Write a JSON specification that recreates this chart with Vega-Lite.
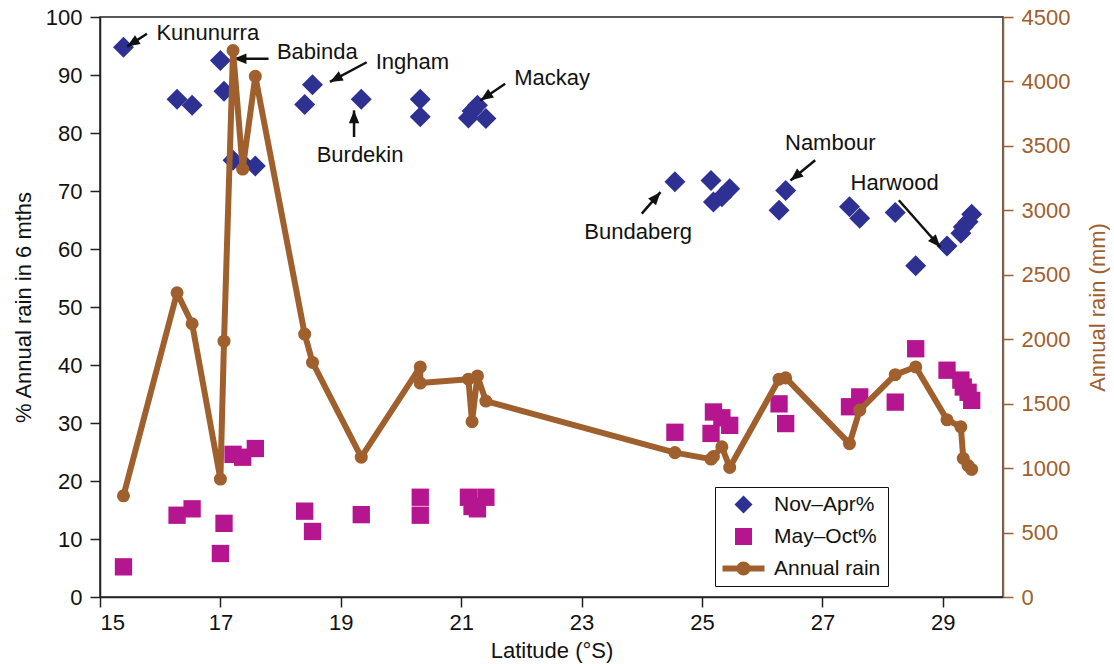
{
  "$schema": "https://vega.github.io/schema/vega-lite/v6.json",
  "width": 903,
  "height": 580,
  "autosize": {"type": "none"},
  "padding": {"left": 100, "top": 17, "right": 111, "bottom": 67},
  "background": "white",
  "config": {
    "font": "Liberation Sans",
    "view": {"fill": "#FEF1CC", "stroke": "#222222", "strokeWidth": 1.5},
    "axis": {
      "labelFontSize": 22, "titleFontSize": 22, "titleFontWeight": "normal",
      "labelColor": "#111111", "titleColor": "#111111", "domainColor": "#222222",
      "tickColor": "#222222", "tickSize": 10, "tickWidth": 1.5, "domainWidth": 1.5,
      "grid": false, "labelFont": "Liberation Sans", "titleFont": "Liberation Sans"
    },
    "text": {"font": "Liberation Sans"}
  },
  "datasets": {
    "stations": [
      {"seq": 1, "lat": 15.39, "nov": 94.8, "may": 5.2, "rain": 785},
      {"seq": 2, "lat": 16.28, "nov": 85.8, "may": 14.1, "rain": 2360},
      {"seq": 3, "lat": 16.53, "nov": 84.8, "may": 15.2, "rain": 2120},
      {"seq": 4, "lat": 17.0, "nov": 92.5, "may": 7.5, "rain": 915},
      {"seq": 5, "lat": 17.06, "nov": 87.2, "may": 12.7, "rain": 1985},
      {"seq": 6, "lat": 17.21, "nov": 75.3, "may": 24.6, "rain": 4240},
      {"seq": 7, "lat": 17.37, "nov": 74.8, "may": 24.1, "rain": 3320},
      {"seq": 8, "lat": 17.58, "nov": 74.3, "may": 25.6, "rain": 4040},
      {"seq": 9, "lat": 18.4, "nov": 84.9, "may": 14.8, "rain": 2040},
      {"seq": 10, "lat": 18.53, "nov": 88.3, "may": 11.3, "rain": 1820},
      {"seq": 11, "lat": 19.34, "nov": 85.8, "may": 14.2, "rain": 1085},
      {"seq": 12, "lat": 20.32, "nov": 82.8, "may": 17.2, "rain": 1785},
      {"seq": 13, "lat": 20.32, "nov": 85.8, "may": 14.1, "rain": 1660},
      {"seq": 14, "lat": 21.12, "nov": 82.6, "may": 17.2, "rain": 1690},
      {"seq": 15, "lat": 21.18, "nov": 83.8, "may": 15.6, "rain": 1360},
      {"seq": 16, "lat": 21.27, "nov": 84.8, "may": 15.2, "rain": 1715},
      {"seq": 17, "lat": 21.41, "nov": 82.5, "may": 17.2, "rain": 1520},
      {"seq": 18, "lat": 24.55, "nov": 71.6, "may": 28.4, "rain": 1120},
      {"seq": 19, "lat": 25.15, "nov": 71.8, "may": 28.2, "rain": 1070},
      {"seq": 20, "lat": 25.19, "nov": 68.1, "may": 31.9, "rain": 1090},
      {"seq": 21, "lat": 25.33, "nov": 69.0, "may": 30.9, "rain": 1165},
      {"seq": 22, "lat": 25.46, "nov": 70.4, "may": 29.6, "rain": 1005},
      {"seq": 23, "lat": 26.28, "nov": 66.7, "may": 33.3, "rain": 1690},
      {"seq": 24, "lat": 26.39, "nov": 70.1, "may": 29.9, "rain": 1700},
      {"seq": 25, "lat": 27.45, "nov": 67.3, "may": 32.8, "rain": 1190},
      {"seq": 26, "lat": 27.62, "nov": 65.3, "may": 34.5, "rain": 1450},
      {"seq": 27, "lat": 28.21, "nov": 66.3, "may": 33.6, "rain": 1725},
      {"seq": 28, "lat": 28.55, "nov": 57.1, "may": 42.8, "rain": 1785},
      {"seq": 29, "lat": 29.07, "nov": 60.5, "may": 39.1, "rain": 1375},
      {"seq": 30, "lat": 29.3, "nov": 62.7, "may": 37.4, "rain": 1320},
      {"seq": 31, "lat": 29.34, "nov": 63.8, "may": 36.2, "rain": 1075},
      {"seq": 32, "lat": 29.42, "nov": 64.7, "may": 35.3, "rain": 1020},
      {"seq": 33, "lat": 29.48, "nov": 66.0, "may": 33.9, "rain": 990}
    ],
    "labels": [
      {"label": "Kununurra", "tx": 16.79, "ty": 97.2},
      {"label": "Babinda", "tx": 18.61, "ty": 93.9},
      {"label": "Ingham", "tx": 20.19, "ty": 92.2},
      {"label": "Burdekin", "tx": 19.32, "ty": 76.2},
      {"label": "Mackay", "tx": 22.51, "ty": 89.4},
      {"label": "Bundaberg", "tx": 23.94, "ty": 63.0},
      {"label": "Nambour", "tx": 27.13, "ty": 78.2},
      {"label": "Harwood", "tx": 28.2, "ty": 71.3}
    ],
    "arrows": [
      {"x1": 15.78, "y1": 97.1, "x2": 15.45, "y2": 94.9},
      {"x1": 17.8, "y1": 92.8, "x2": 17.22, "y2": 92.8},
      {"x1": 19.43, "y1": 92.2, "x2": 18.82, "y2": 88.8},
      {"x1": 19.22, "y1": 79.3, "x2": 19.22, "y2": 83.9},
      {"x1": 21.73, "y1": 88.5, "x2": 21.32, "y2": 85.6},
      {"x1": 24.0, "y1": 66.1, "x2": 24.31, "y2": 69.8},
      {"x1": 26.88, "y1": 75.3, "x2": 26.47, "y2": 71.8},
      {"x1": 28.27, "y1": 68.4, "x2": 28.96, "y2": 60.3}
    ],
    "series": [
      {"series": "Nov–Apr%"},
      {"series": "May–Oct%"},
      {"series": "Annual rain"}
    ]
  },
  "layer": [
    {
      "layer": [
        {
          "data": {"name": "stations"},
          "mark": {"type": "point", "shape": "diamond", "filled": true, "color": "#2E3192", "size": 440, "opacity": 1},
          "encoding": {
            "x": {"field": "lat", "type": "quantitative", "title": "Latitude (°S)",
              "scale": {"domain": [15, 30], "nice": false, "zero": false},
              "axis": {"values": [15, 17, 19, 21, 23, 25, 27, 29], "format": "d", "labelPadding": 5, "titlePadding": 7}},
            "y": {"field": "nov", "type": "quantitative", "title": "% Annual rain in 6 mths",
              "scale": {"domain": [0, 100], "nice": false},
              "axis": {"orient": "left", "values": [0, 10, 20, 30, 40, 50, 60, 70, 80, 90, 100], "format": "d", "labelPadding": 8, "titlePadding": 10}}
          }
        },
        {
          "data": {"name": "stations"},
          "mark": {"type": "point", "shape": "square", "filled": true, "color": "#B5168F", "size": 300, "opacity": 1},
          "encoding": {
            "x": {"field": "lat", "type": "quantitative", "title": "Latitude (°S)"},
            "y": {"field": "may", "type": "quantitative", "title": "% Annual rain in 6 mths"}
          }
        },
        {
          "data": {"name": "arrows"},
          "mark": {"type": "rule", "color": "#111111", "strokeWidth": 2.5},
          "encoding": {
            "x": {"field": "x1", "type": "quantitative", "title": "Latitude (°S)"},
            "y": {"field": "y1", "type": "quantitative", "title": "% Annual rain in 6 mths"},
            "x2": {"field": "x2"},
            "y2": {"field": "y2"}
          }
        },
        {
          "data": {"name": "arrows"},
          "transform": [
            {"calculate": "atan2((datum.x2 - datum.x1) * 60.2, (datum.y2 - datum.y1) * 5.8) * 180 / PI", "as": "angle"}
          ],
          "mark": {"type": "point", "shape": "M0,0L-0.65,1.6L0.65,1.6Z", "filled": true, "color": "#111111", "size": 256, "opacity": 1},
          "encoding": {
            "x": {"field": "x2", "type": "quantitative", "title": "Latitude (°S)"},
            "y": {"field": "y2", "type": "quantitative", "title": "% Annual rain in 6 mths"},
            "angle": {"field": "angle", "type": "quantitative", "scale": null}
          }
        },
        {
          "data": {"name": "labels"},
          "mark": {"type": "text", "fontSize": 22, "align": "center", "baseline": "middle", "color": "#111111"},
          "encoding": {
            "x": {"field": "tx", "type": "quantitative", "title": "Latitude (°S)"},
            "y": {"field": "ty", "type": "quantitative", "title": "% Annual rain in 6 mths"},
            "text": {"field": "label"}
          }
        },
        {
          "data": {"name": "series"},
          "mark": {"type": "point", "filled": true, "opacity": 0},
          "encoding": {
            "color": {"field": "series", "type": "nominal",
              "scale": {"domain": ["Nov–Apr%", "May–Oct%", "Annual rain"], "range": ["#2E3192", "#B5168F", "#A0602E"]},
              "legend": {"orient": "none", "legendX": 615, "legendY": 470, "title": null, "fillColor": "white", "strokeColor": "#111111", "padding": 7, "labelFontSize": 21, "labelColor": "#111111", "labelFont": "Liberation Sans", "symbolSize": 400, "symbolStrokeWidth": 0, "symbolOpacity": 1, "rowPadding": 10, "labelOffset": 20, "symbolOffset": 11}},
            "shape": {"field": "series", "type": "nominal",
              "scale": {"domain": ["Nov–Apr%", "May–Oct%", "Annual rain"], "range": ["M-0.9,0L0,-0.9L0.9,0L0,0.9Z", "M-0.85,-0.85H0.85V0.85H-0.85Z", "M-2.1,-0.3H2.1V0.3H-2.1Z M0.7,0A0.7,0.7 0 1 1 -0.7,0A0.7,0.7 0 1 1 0.7,0Z"]},
              "legend": {"orient": "none", "legendX": 615, "legendY": 470, "title": null, "fillColor": "white", "strokeColor": "#111111", "padding": 7, "labelFontSize": 21, "labelColor": "#111111", "labelFont": "Liberation Sans", "symbolSize": 400, "symbolStrokeWidth": 0, "symbolOpacity": 1, "rowPadding": 10, "labelOffset": 20, "symbolOffset": 11}}
          }
        }
      ]
    },
    {
      "layer": [
        {
          "data": {"name": "stations"},
          "mark": {"type": "line", "color": "#A0602E", "strokeWidth": 6, "strokeJoin": "round"},
          "encoding": {
            "x": {"field": "lat", "type": "quantitative", "title": "Latitude (°S)"},
            "y": {"field": "rain", "type": "quantitative", "title": "Annual rain (mm)",
              "scale": {"domain": [0, 4500], "nice": false},
              "axis": {"orient": "right", "values": [0, 500, 1000, 1500, 2000, 2500, 3000, 3500, 4000, 4500], "format": "d", "titleAngle": 270, "labelColor": "#A0602E", "titleColor": "#A0602E", "domainColor": "#A0602E", "tickColor": "#A0602E", "labelPadding": 8, "titlePadding": 40}},
            "order": {"field": "seq", "type": "quantitative"}
          }
        },
        {
          "data": {"name": "stations"},
          "mark": {"type": "point", "shape": "circle", "filled": true, "color": "#A0602E", "size": 170, "opacity": 1},
          "encoding": {
            "x": {"field": "lat", "type": "quantitative", "title": "Latitude (°S)"},
            "y": {"field": "rain", "type": "quantitative", "title": "Annual rain (mm)"}
          }
        }
      ]
    }
  ],
  "resolve": {"scale": {"y": "independent"}}
}
